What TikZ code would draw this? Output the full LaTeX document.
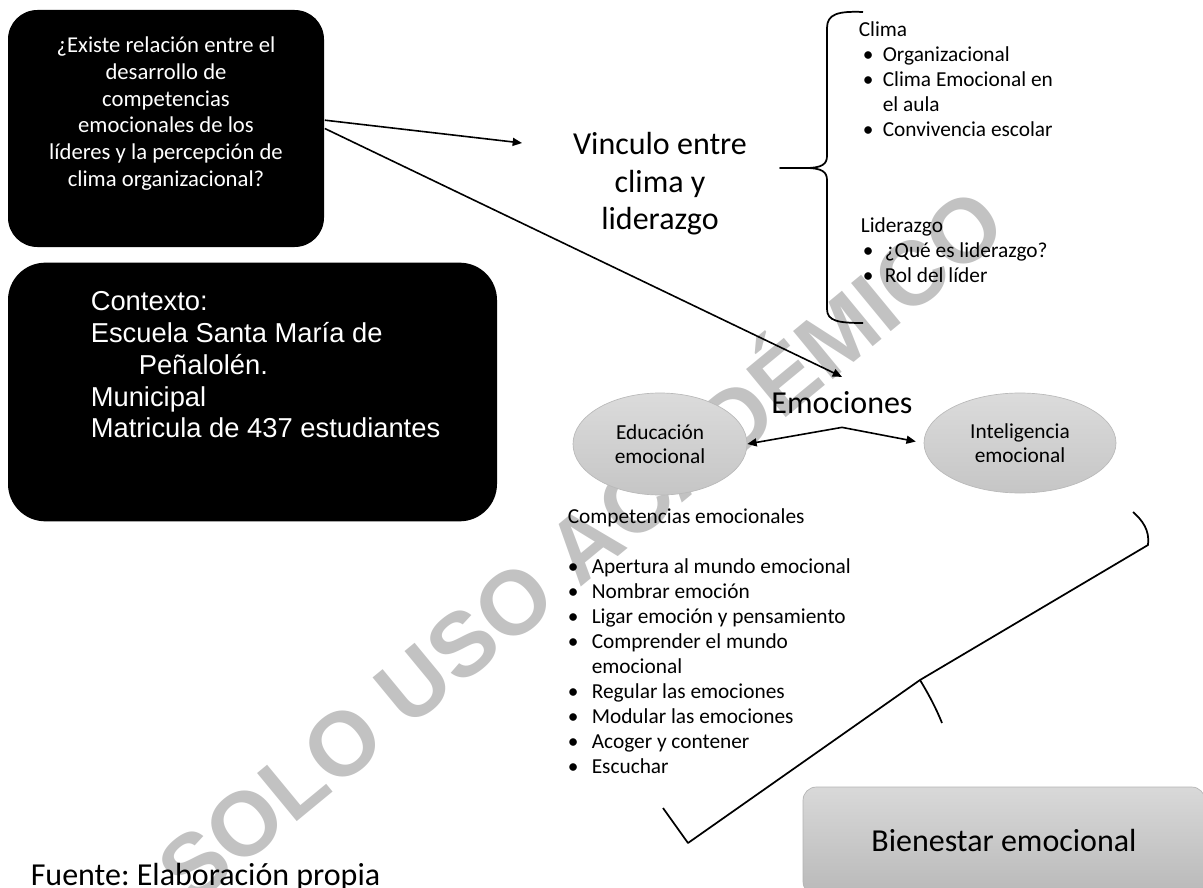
\documentclass[tikz,border=0pt]{standalone}
\usepackage{fontspec}
\setmainfont{Carlito}
\newfontfamily\arialfont{Liberation Sans}
\usetikzlibrary{arrows.meta,shapes.geometric}
\frenchspacing

\begin{document}
\begin{tikzpicture}[x=0.75pt,y=-0.75pt,line width=1.2pt,
    blackbox/.style={fill=black,text=white,rounded corners=22pt,inner sep=0pt},
    bubble/.style={ellipse,draw=gray!55,line width=0.5pt,top color=gray!28,bottom color=gray!45,align=center,font=\fontsize{16pt}{18pt}\selectfont},
    bigtext/.style={font=\fontsize{24pt}{28pt}\selectfont},
    listtext/.style={font=\fontsize{16pt}{18.75pt}\selectfont,inner sep=0pt,anchor=base west},
    conn/.style={-{Triangle[length=7pt,width=6pt]}},
    bracepath/.style={line width=1.3pt,line join=round}]
    \useasboundingbox (0,0) rectangle (1203,888);
    \clip (0,0) rectangle (1203,888);
    % Draw watermark
    \node[text=gray!48,font=\arialfont\bfseries\fontsize{68pt}{68pt}\selectfont,rotate=39.5] (marca) at (576,540) {SOLO USO ACADÉMICO};
    % Draw question box
    \node[blackbox,minimum width=237pt,minimum height=177.75pt] (qbox) at (166,128.5) {};
    \node[text=white,inner sep=0pt,anchor=base,font=\fontsize{17pt}{20pt}\selectfont] (qtext) at (166,53)
        {\begin{tabular}[t]{@{}c@{}}¿Existe relación entre el\\desarrollo de\\competencias\\emocionales de los\\líderes y la percepción de\\clima organizacional?\end{tabular}};
    % Draw context box
    \node[blackbox,rounded corners=28pt,minimum width=366.75pt,minimum height=194pt] (cbox) at (252.5,392) {};
    \node[text=white,inner sep=0pt,anchor=base west,font=\arialfont\fontsize{20.5pt}{24pt}\selectfont] (ctext) at (90,310)
        {\begin{tabular}[t]{@{}l@{}}Contexto:\\Escuela Santa María de\\\hspace*{36pt}Peñalolén.\\Municipal\\Matricula de 437 estudiantes\end{tabular}};
    % Draw central topics
    \node[bigtext,inner sep=0pt,anchor=base] (vinculo) at (660,155)
        {\begin{tabular}[t]{@{}c@{}}Vinculo entre\\clima y\\liderazgo\end{tabular}};
    \node[bigtext,inner sep=10pt,anchor=base] (emoc) at (842,413) {Emociones};
    \node[bubble,minimum width=130.5pt,minimum height=76.5pt] (edu) at (660,444) {Educación\\emocional};
    \node[bubble,minimum width=144pt,minimum height=75pt] (intel) at (1020,443) {Inteligencia\\emocional};
    % Draw lists
    \node[listtext] (clima) at (858,37)
        {\begin{tabular}[t]{@{}p{18pt}@{}l@{}}\multicolumn{2}{@{}l@{}}{Clima}\\
        \hspace*{3pt}\textbullet & Organizacional\\
        \hspace*{3pt}\textbullet & Clima Emocional en\\
        & el aula\\
        \hspace*{3pt}\textbullet & Convivencia escolar\end{tabular}};
    \node[listtext] (lider) at (860,233)
        {\begin{tabular}[t]{@{}p{18pt}@{}l@{}}\multicolumn{2}{@{}l@{}}{Liderazgo}\\
        \hspace*{1.5pt}\textbullet & ¿Qué es liderazgo?\\
        \hspace*{1.5pt}\textbullet & Rol del líder\end{tabular}};
    \node[listtext] (comp) at (567,523)
        {\begin{tabular}[t]{@{}p{18pt}@{}l@{}}\multicolumn{2}{@{}l@{}}{Competencias emocionales}\\
        & \\
        \textbullet & Apertura al mundo emocional\\
        \textbullet & Nombrar emoción\\
        \textbullet & Ligar emoción y pensamiento\\
        \textbullet & Comprender el mundo\\
        & emocional\\
        \textbullet & Regular las emociones\\
        \textbullet & Modular las emociones\\
        \textbullet & Acoger y contener\\
        \textbullet & Escuchar\end{tabular}};
    % Draw result box
    \node[bigtext,draw=gray!60,line width=0.5pt,top color=gray!30,bottom color=gray!55,rounded corners=10pt,
        minimum width=301.5pt,minimum height=81pt] (bien) at (1004,841) {Bienestar emocional};
    % Draw source line
    \node[bigtext,inner sep=0pt,anchor=base west] (fuente) at (30,885) {Fuente: Elaboración propia};
    % Draw arrows
    \coordinate (vinTip) at (522,143);
    \draw[conn] (qbox.3.5) -- (vinTip);
    \draw[conn] (qbox.0) -- (emoc.north);
    \draw[conn] (emoc.south) -- (edu.east);
    \draw[conn,shorten >=6pt] (emoc.south) -- (intel.west);
    % Draw braces
    \draw[bracepath] (863,12) .. controls (838,11) and (827,14) .. (827,28) -- (827,156)
        .. controls (827,164) and (822,168) .. (806,168) -- (780,168) -- (806,168)
        .. controls (822,168) and (827,172) .. (827,180) -- (827,309)
        .. controls (827,321) and (838,323) .. (863,323);
    \draw[bracepath] (663,808) -- (688,843) -- (920,680) -- (1148,545)
        .. controls (1150,530) and (1142,520) .. (1133,512);
    \draw[bracepath] (920,680) .. controls (929,695) and (936,708) .. (942,723);
\end{tikzpicture}
\end{document}
